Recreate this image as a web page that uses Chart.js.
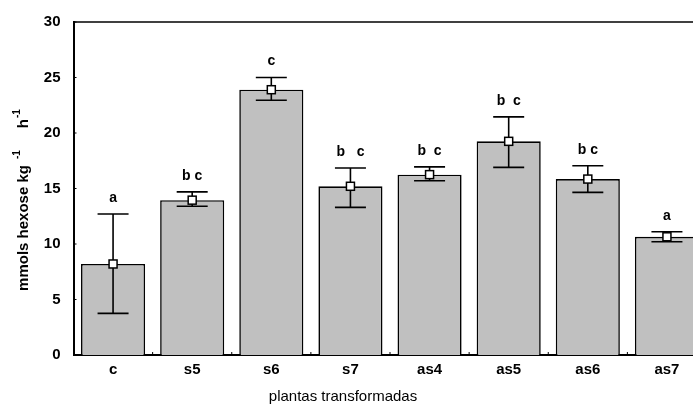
<!DOCTYPE html>
<html>
<head>
<meta charset="utf-8">
<script src="https://cdn.jsdelivr.net/npm/chart.js@4/dist/chart.umd.min.js"></script>
<style>
    body { margin: 0; background: #fff; overflow: hidden; }
    .wrap { width: 693px; height: 412px; overflow: hidden; }
</style>
</head>
<body>
<div class="wrap">
    <canvas id="barChart" width="720" height="412" style="width:720px;height:412px"></canvas>
</div>
<script>
const categories = ['c', 's5', 's6', 's7', 'as4', 'as5', 'as6', 'as7'];
const means = [8.2, 13.95, 23.9, 15.2, 16.25, 19.25, 15.85, 10.65];
const errHigh = [12.7, 14.7, 25.0, 16.85, 16.95, 21.45, 17.05, 11.1];
const errLow = [3.75, 13.4, 22.95, 13.3, 15.7, 16.9, 14.65, 10.2];
const groupLabels = ['a', 'b c', 'c', 'b   c', 'b  c', 'b  c', 'b c', 'a'];
const yTicks = [0, 5, 10, 15, 20, 25, 30];

const fontFamily = 'Arial, "Liberation Sans", sans-serif';

// frame line on top + small inward ticks
const framePlugin = {
    id: 'frame',
    afterDraw(chart) {
        const { ctx, chartArea, scales } = chart;
        ctx.save();
        ctx.strokeStyle = '#000';
        ctx.lineWidth = 1.5;
        ctx.beginPath();
        ctx.moveTo(chartArea.left, chartArea.top);
        ctx.lineTo(chartArea.right, chartArea.top);
        ctx.stroke();

        ctx.lineWidth = 1;
        yTicks.forEach(v => {
            const y = scales.y.getPixelForValue(v);
            ctx.beginPath();
            ctx.moveTo(chartArea.left, y);
            ctx.lineTo(chartArea.left + 3, y);
            ctx.stroke();
        });
        for (let i = 1; i < categories.length; i++) {
            const x = (scales.x.getPixelForValue(i - 1) + scales.x.getPixelForValue(i)) / 2;
            ctx.beginPath();
            ctx.moveTo(x, chartArea.bottom);
            ctx.lineTo(x, chartArea.bottom - 3);
            ctx.stroke();
        }
        ctx.restore();
    }
};

// whiskers, mean markers and group letters
const errorBarPlugin = {
    id: 'errorBars',
    afterDatasetsDraw(chart) {
        const { ctx, scales } = chart;
        const meta = chart.getDatasetMeta(0);
        ctx.save();
        ctx.strokeStyle = '#000';
        meta.data.forEach((bar, i) => {
            const x = bar.x;
            const yHi = scales.y.getPixelForValue(errHigh[i]);
            const yLo = scales.y.getPixelForValue(errLow[i]);
            const yMean = scales.y.getPixelForValue(means[i]);
            const cap = 15.5;

            ctx.lineWidth = 1.6;
            ctx.beginPath();
            ctx.moveTo(x, yHi);
            ctx.lineTo(x, yLo);
            ctx.moveTo(x - cap, yHi);
            ctx.lineTo(x + cap, yHi);
            ctx.moveTo(x - cap, yLo);
            ctx.lineTo(x + cap, yLo);
            ctx.stroke();

            ctx.fillStyle = '#fff';
            ctx.lineWidth = 1.5;
            ctx.fillRect(x - 4, yMean - 4, 8, 8);
            ctx.strokeRect(x - 4, yMean - 4, 8, 8);

            ctx.fillStyle = '#000';
            ctx.font = 'bold 14px ' + fontFamily;
            ctx.textAlign = 'center';
            ctx.textBaseline = 'middle';
            ctx.fillText(groupLabels[i], x, yHi - 16);
        });
        ctx.restore();
    }
};

// axis titles (y title has superscripts)
const titlePlugin = {
    id: 'axisTitles',
    afterDraw(chart) {
        const { ctx } = chart;
        ctx.save();
        ctx.fillStyle = '#000';
        ctx.font = '15px ' + fontFamily;
        ctx.textAlign = 'center';
        ctx.textBaseline = 'middle';
        ctx.fillText('plantas transformadas', 343, 397);

        const main = 'mmols hexose kg';
        const mainFont = 'bold 15px ' + fontFamily;
        const supFont = 'bold 10px ' + fontFamily;
        ctx.font = mainFont;
        const wMain = ctx.measureText(main).width;
        const wH = ctx.measureText('h').width;
        ctx.font = supFont;
        const wSup = ctx.measureText('-1').width;
        const total = wMain + 6 + wSup + 22 + wH + 1 + wSup;

        ctx.translate(28, 200);
        ctx.rotate(-Math.PI / 2);
        ctx.textAlign = 'left';
        ctx.textBaseline = 'alphabetic';
        let x = -total / 2;
        ctx.font = mainFont;
        ctx.fillText(main, x, 0);
        x += wMain + 6;
        ctx.font = supFont;
        ctx.fillText('-1', x, -8);
        x += wSup + 22;
        ctx.font = mainFont;
        ctx.fillText('h', x, 0);
        x += wH + 1;
        ctx.font = supFont;
        ctx.fillText('-1', x, -8);
        ctx.restore();
    }
};

const ctx = document.getElementById('barChart').getContext('2d');

new Chart(ctx, {
    type: 'bar',
    data: {
        labels: categories,
        datasets: [{
            data: means,
            backgroundColor: '#c0c0c0',
            borderColor: '#000',
            borderWidth: 1.6,
            barPercentage: 0.81,
            categoryPercentage: 1
        }]
    },
    options: {
        responsive: false,
        animation: false,
        devicePixelRatio: 1,
        layout: {
            padding: { top: 22, right: 13.5, left: 0, bottom: 0 }
        },
        plugins: {
            legend: { display: false },
            tooltip: { enabled: false }
        },
        scales: {
            x: {
                grid: { display: false, drawTicks: false },
                border: { display: true, color: '#000', width: 2 },
                ticks: {
                    color: '#000',
                    padding: 6,
                    font: { family: fontFamily, size: 15, weight: 'bold' }
                },
                afterFit: (scale) => { scale.height = 57; }
            },
            y: {
                min: 0,
                max: 30,
                grid: { display: false, drawTicks: false },
                border: { display: true, color: '#000', width: 2 },
                ticks: {
                    stepSize: 5,
                    color: '#000',
                    padding: 13,
                    font: { family: fontFamily, size: 15, weight: 'bold' }
                },
                afterFit: (scale) => { scale.width = 73.5; }
            }
        }
    },
    plugins: [framePlugin, errorBarPlugin, titlePlugin]
});
</script>
</body>
</html>
